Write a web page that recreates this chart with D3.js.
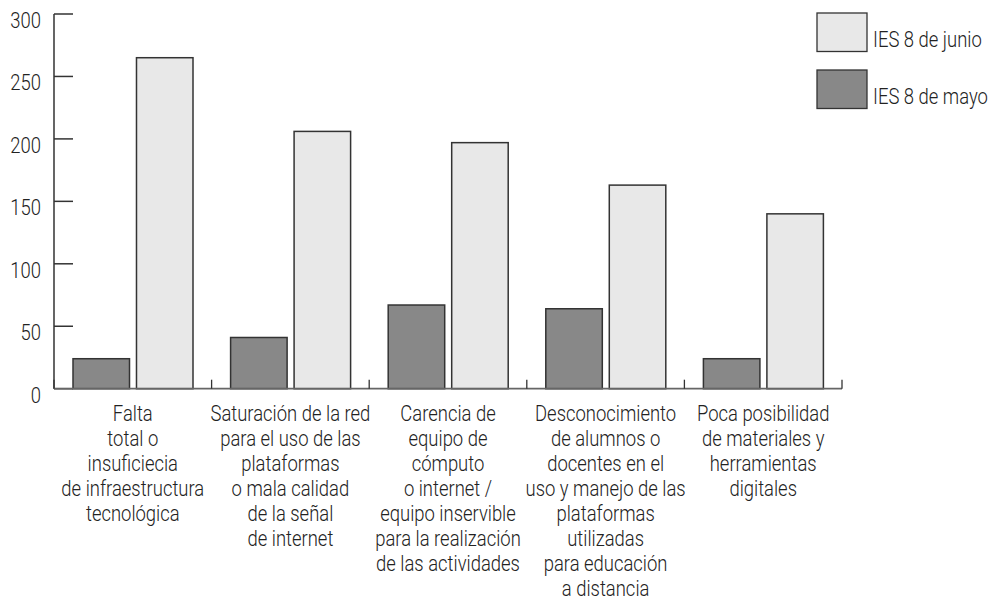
<!DOCTYPE html>
<html>
<head>
<meta charset="utf-8">
<script src="https://cdn.jsdelivr.net/npm/d3@7"></script>
<style>
  body { margin: 0; background: #fff; }
  svg text { font-family: Roboto, 'Noto Sans', sans-serif; font-weight: 300; fill: #222; }
</style>
</head>
<body>
<svg id="chart" width="995" height="601"></svg>
<script>
// data
const categories = [
  ['Falta', 'total o', 'insuficiecia', 'de infraestructura', 'tecnológica'],
  ['Saturación de la red', 'para el uso de las', 'plataformas', 'o mala calidad', 'de la señal', 'de internet'],
  ['Carencia de', 'equipo de', 'cómputo', 'o internet /', 'equipo inservible', 'para la realización', 'de las actividades'],
  ['Desconocimiento', 'de alumnos o', 'docentes en el', 'uso y manejo de las', 'plataformas', 'utilizadas', 'para educación', 'a distancia'],
  ['Poca posibilidad', 'de materiales y', 'herramientas', 'digitales']
]
const seriesNames = ['IES 8 de mayo', 'IES 8 de junio']
const mayo = [24, 41, 67, 64, 24]
const junio = [265, 206, 197, 163, 140]
const yTicks = [0, 50, 100, 150, 200, 250, 300]

const colors = {'IES 8 de mayo': '#888888', 'IES 8 de junio': '#e8e8e8'}
const stroke = '#333'
const fontSize = 22.5
// narrow the font to look like the condensed face of the original
const squeeze = 0.82

let svg = d3.select('#chart')
const x0 = d3.scaleBand().domain(d3.range(categories.length)).range([54, 842])
const x1 = d3.scaleBand().domain(seriesNames).range([19, 139]).paddingInner(0.11)
const y = d3.scaleLinear().domain([0, 300]).range([388.7, 14])

// y axis
let yAxis = svg.append('g')
yAxis.append('line')
  .attr('x1', 54).attr('x2', 54)
  .attr('y1', y(300)).attr('y2', y(0))
  .attr('stroke', '#555').attr('stroke-width', 1.8)
yAxis.selectAll('.ytick')
  .data(yTicks)
  .enter()
  .append('line')
  .attr('x1', 54).attr('x2', 73)
  .attr('y1', d => y(d)).attr('y2', d => y(d))
  .attr('stroke', '#333').attr('stroke-width', 1.5)
yAxis.selectAll('.ylabel')
  .data(yTicks)
  .enter()
  .append('text')
  .attr('transform', d => 'translate(41,' + (y(d) + 14) + ') scale(' + squeeze + ',1)')
  .attr('text-anchor', 'end')
  .style('font-size', fontSize + 'px')
  .text(d => d)

// bars
let groups = svg.selectAll('.cat')
  .data(categories.map((c, i) => ({i: i, vals: [mayo[i], junio[i]]})))
  .enter()
  .append('g')
  .attr('transform', d => 'translate(' + x0(d.i) + ',0)')
groups.selectAll('rect')
  .data(d => d.vals.map((v, k) => ({name: seriesNames[k], value: v})))
  .enter()
  .append('rect')
  .attr('x', d => x1(d.name))
  .attr('width', x1.bandwidth())
  .attr('y', d => y(d.value))
  .attr('height', d => y(0) - y(d.value))
  .attr('fill', d => colors[d.name])
  .attr('stroke', stroke)
  .attr('stroke-width', 1.5)

// x axis
svg.append('line')
  .attr('x1', 54).attr('x2', 842)
  .attr('y1', y(0)).attr('y2', y(0))
  .attr('stroke', '#666').attr('stroke-width', 1.8)
svg.selectAll('.xtick')
  .data(d3.range(categories.length + 1))
  .enter()
  .append('line')
  .attr('x1', d => 54 + d * x0.step()).attr('x2', d => 54 + d * x0.step())
  .attr('y1', y(0) - 9).attr('y2', y(0))
  .attr('stroke', '#333').attr('stroke-width', 1.3)

// category labels
categories.forEach(function (lines, i) {
  let cx = x0(i) + x0.bandwidth() / 2
  svg.append('g')
    .attr('transform', 'translate(' + cx + ',420.5) scale(' + squeeze + ',1)')
    .selectAll('text')
    .data(lines)
    .enter()
    .append('text')
    .attr('text-anchor', 'middle')
    .attr('y', (d, k) => k * 25.1)
    .style('font-size', fontSize + 'px')
    .text(d => d)
})

// legend
const legendOrder = ['IES 8 de junio', 'IES 8 de mayo']
let legend = svg.selectAll('.leg')
  .data(legendOrder)
  .enter()
  .append('g')
  .attr('transform', (d, k) => 'translate(817,' + (13 + k * 57) + ')')
legend.append('rect')
  .attr('width', 50).attr('height', 38.5)
  .attr('fill', d => colors[d])
  .attr('stroke', stroke).attr('stroke-width', 1.3)
legend.append('text')
  .attr('transform', 'translate(56,33.5) scale(' + squeeze + ',1)')
  .style('font-size', fontSize + 'px')
  .text(d => d)
</script>
</body>
</html>
